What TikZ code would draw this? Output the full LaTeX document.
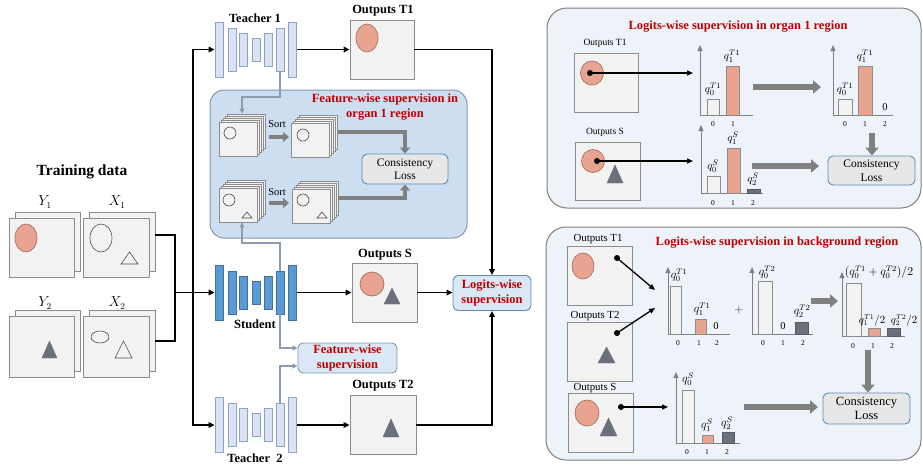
\documentclass[tikz,border=0pt]{standalone}
\usepackage{fontspec}
\setmainfont{Liberation Serif}
\usetikzlibrary{arrows.meta,calc}
\definecolor{salmon}{HTML}{E8A391}
\definecolor{salmonD}{HTML}{A8705F}
\definecolor{dgray}{HTML}{6B707D}
\definecolor{imgfill}{HTML}{F2F2F2}
\definecolor{imgline}{HTML}{8C8C8C}
\definecolor{tfill}{HTML}{DAE3F3}
\definecolor{tline}{HTML}{8FA3C4}
\definecolor{sfill}{HTML}{5B9BD5}
\definecolor{sline}{HTML}{41719C}
\definecolor{fregfill}{HTML}{CCDEF0}
\definecolor{fregline}{HTML}{8497B0}
\definecolor{panfill}{HTML}{EEF3FA}
\definecolor{panline}{HTML}{7F7F7F}
\definecolor{cfill}{HTML}{E7E7E7}
\definecolor{cline}{HTML}{5B8DB8}
\definecolor{lwfill}{HTML}{DAE7F5}
\definecolor{redt}{HTML}{C00000}
\definecolor{garr}{HTML}{808080}
\definecolor{farrc}{HTML}{8C9CAE}
\newcommand{\fsz}[2]{\fontsize{#1}{#2}\selectfont}
\newcommand{\pstack}[3]{%
  \foreach \k in {4,3,2,1} {\node[img, line width=0.6pt, minimum width=38pt, minimum height=34pt] (#1b\k) at ({#2+2*\k},{#3-2*\k}) {};}
  \node[img, minimum width=38pt, minimum height=34pt] (#1f) at (#2,#3) {};
}
\tikzset{
  img/.style={draw=imgline, fill=imgfill, line width=0.8pt, inner sep=0pt},
  tl/.style={draw=tline, fill=tfill, line width=0.8pt, minimum width=8pt, inner sep=0pt},
  sl/.style={draw=sline, fill=sfill, line width=0.8pt, minimum width=8pt, inner sep=0pt},
  arr/.style={line width=1.6pt, -{Triangle[length=6pt,width=5.5pt]}},
  barr/.style={line width=1.3pt, -{Triangle[length=6pt,width=5pt]}},
  dline/.style={line width=1.2pt},
  farr/.style={draw=farrc, line width=1.4pt, -{Triangle[length=5pt,width=5pt]}},
  gblock/.style={draw=garr, line width=4pt, -{Triangle[length=6pt,width=10pt]}},
  gbig/.style={draw=garr, line width=6pt, -{Triangle[length=8pt,width=13pt]}},
  cons/.style={draw=cline, fill=cfill, rounded corners=5pt, line width=0.9pt, align=center, inner sep=0pt},
  lwbox/.style={draw=cline, fill=lwfill, rounded corners=5pt, line width=0.9pt, align=center, inner sep=0pt, text=redt, font=\bfseries\fsz{12.5}{15}},
  panel/.style={draw=panline, fill=panfill, line width=1pt, rounded corners=20pt, inner sep=0pt},
  freg/.style={draw=fregline, fill=fregfill, line width=1pt, rounded corners=14pt, inner sep=0pt},
  lbl/.style={font=\bfseries\fsz{12.5}{14}, inner sep=0pt},
  redtitle/.style={text=redt, font=\bfseries\fsz{12.5}{15}, align=center, inner sep=0pt},
  olbl/.style={font=\fsz{9.5}{11}, inner sep=0pt},
  olbl2/.style={font=\fsz{10.8}{12}, inner sep=0pt},
  dlbl/.style={font=\fsz{13.5}{14}, inner sep=0pt},
  sal/.style={fill=salmon, draw=salmonD, line width=0.7pt},
  tri/.style={fill=dgray, draw=dgray},
  otri/.style={draw=black!70, line width=0.6pt},
  bar0/.style={draw=imgline, fill=imgfill, line width=0.8pt},
  bar1/.style={draw=imgline, fill=salmon, line width=0.8pt},
  bar2/.style={draw=dgray!80!black, fill=dgray, line width=0.6pt},
  axis/.style={draw=garr, line width=1pt},
  yax/.style={draw=garr, line width=1pt, -{Triangle[length=6pt,width=5pt]}},
  tick/.style={font=\fsz{7.5}{8}, inner sep=0pt},
  ql/.style={font=\fsz{11}{12}, inner sep=0pt},
  ql2/.style={font=\fsz{11.5}{12}, inner sep=0pt},
  ql3/.style={font=\fsz{10.5}{11}, inner sep=0pt},
  zero/.style={font=\fsz{10.5}{11}, inner sep=0pt},
}
\begin{document}
\begin{tikzpicture}[x=1pt,y=-1pt]
\useasboundingbox (0,0) rectangle (923,464);
% ---------------- backgrounds
\node[panel, minimum width=374pt, minimum height=200pt] (rp1) at (734,108) {};
\node[panel, minimum width=375pt, minimum height=233pt] (rp2) at (733.5,343.5) {};
\node[freg, minimum width=257pt, minimum height=148pt] (fr) at (338.5,164) {};

% ---------------- training data
\node[font=\bfseries\fsz{15.5}{17}, inner sep=0pt] (td) at (82,172) {Training data};
\node[dlbl] (ly1) at (45,202) {$Y_1$};
\node[dlbl] (lx1) at (117,202) {$X_1$};
\node[dlbl] (ly2) at (45,303) {$Y_2$};
\node[dlbl] (lx2) at (117,303) {$X_2$};
\node[img, minimum width=65pt, minimum height=59pt] (y1b) at (47.5,241.5) {};
\node[img, minimum width=65pt, minimum height=59pt] (y1f) at (41.5,247.5) {};
\node[img, minimum width=66pt, minimum height=59pt] (x1b) at (122,241.5) {};
\node[img, minimum width=66pt, minimum height=59pt] (x1f) at (116,247.5) {};
\node[img, minimum width=65pt, minimum height=61pt] (y2b) at (47.5,340.5) {};
\node[img, minimum width=65pt, minimum height=61pt] (y2f) at (41.5,346.5) {};
\node[img, minimum width=66pt, minimum height=61pt] (x2b) at (122,340.5) {};
\node[img, minimum width=66pt, minimum height=61pt] (x2f) at (116,346.5) {};
\draw[sal] (26,238) ellipse [x radius=11pt, y radius=14pt];
\draw[otri] (101,238) ellipse [x radius=11pt, y radius=14pt];
\draw[otri] (121,264) -- (138,264) -- (129.5,252) -- cycle;
\draw[tri] (42,358) -- (57,358) -- (49.5,341) -- cycle;
\draw[otri] (100,337) ellipse [x radius=9pt, y radius=6pt];
\draw[otri] (115,358) -- (132,358) -- (123.5,341) -- cycle;

\coordinate (j1) at (175,235);
\coordinate (j2) at (175,341);
\coordinate (jm) at (175,292.5);
\draw[dline] (x1b.east |- j1) -- (j1) -- (j2) -- (x2b.east |- j2);

% ---------------- networks
\foreach \i/\x/\h in {1/219/55,2/232/43,3/243.5/33,4/256/23,5/268/33,6/280/43,7/292.5/55} {
  \node[tl, minimum height=\h pt] (t1l\i) at (\x,49.5) {};
  \node[sl, minimum height=\h pt] (sl\i) at (\x,292.5) {};
  \node[tl, minimum height=\h pt] (t2l\i) at (\x,425) {};
}
\node[lbl] (lt1) at (255,18) {Teacher 1};
\node[lbl] (lst) at (255,324) {Student};
\node[lbl] (lt2) at (255,458) {Teacher\ \ 2};

\coordinate (bt) at (193,49.5);
\coordinate (bb) at (193,425);
\draw[arr] (bb) -- (bt) -- (t1l1.west);
\draw[arr] (bt) -- (bb) -- (t2l1.west);
\draw[arr] (jm) -- (sl1.west);

% outputs
\node[img, minimum width=64pt, minimum height=59pt] (ot1) at (382,49.5) {};
\node[lbl] (lot1) at (383,11) {Outputs T1};
\draw[sal] (367,38) ellipse [x radius=11pt, y radius=14pt];
\node[img, minimum width=65pt, minimum height=59pt] (os) at (384.5,292.5) {};
\node[lbl] (los) at (385,255) {Outputs S};
\draw[sal] (372,284) circle [radius=12pt];
\draw[tri] (384,304) -- (400,304) -- (392,288) -- cycle;
\node[img, minimum width=66pt, minimum height=59pt] (ot2) at (383,425) {};
\node[lbl] (lot2) at (383,386) {Outputs T2};
\draw[tri] (383,437) -- (399,437) -- (391,419) -- cycle;

\draw[arr] (t1l7.east) -- (ot1.west);
\draw[arr] (sl7.east) -- (os.west);
\draw[arr] (t2l7.east) -- (ot2.west);

\node[lwbox, minimum width=78pt, minimum height=35pt] (lw) at (492,293) {Logits-wise\\supervision};
\draw[arr] (ot1.east) -| (lw.north);
\draw[arr] (os.east) -- (os.east -| lw.west);
\draw[arr] (ot2.east) -| (lw.south);

% ---------------- feature-wise region
\node[redtitle] (frt) at (385,107.5) {Feature-wise supervision in\\organ 1 region};
\pstack{sa}{238.5}{139}
\pstack{sb}{310.5}{140}
\pstack{sc}{238}{205}
\pstack{sd}{311}{206}
\draw[otri] (230,133) circle [radius=6pt];
\draw[otri] (303,135) circle [radius=6pt];
\draw[otri] (229,200) circle [radius=6pt];
\draw[otri] (242,218) -- (252,218) -- (247,212) -- cycle;
\draw[otri] (303,200) circle [radius=6pt];
\draw[otri] (317,218) -- (327,218) -- (322,212) -- cycle;
\node[font=\fsz{10.5}{11}, inner sep=0pt] (so1) at (277,124) {Sort};
\node[font=\fsz{10.5}{11}, inner sep=0pt] (so2) at (277,192) {Sort};
\coordinate (sa1) at (269,137); \coordinate (sa2) at (289,137);
\coordinate (sb1) at (269,203); \coordinate (sb2) at (289,203);
\draw[gblock] (sa1) -- (sa2);
\draw[gblock] (sb1) -- (sb2);
\node[cons, minimum width=86pt, minimum height=30pt, font=\fsz{11.5}{13.5}] (cl1) at (405,169) {Consistency\\Loss};
\draw[gblock] (sbb4.east) -| (cl1.north);
\draw[gblock] (sdb4.east) -| (cl1.south);

\coordinate (fa) at (242,97);
\coordinate (fb) at (242,243);
\draw[farr] (t1l6.south) |- (fa) -- (fa |- sab4.north);
\draw[farr] (sl6.north) |- (fb) -- (fb |- scf.south);

\node[lwbox, draw=fregline, minimum width=99pt, minimum height=30pt] (fw) at (347.5,358) {Feature-wise\\supervision};
\draw[farr] (sl6.south) |- ([yshift=10pt]fw.west);
\draw[farr] (t2l6.north) |- ([yshift=-8pt]fw.west);

% ---------------- right panel 1
\node[redtitle] (rt1) at (738,27) {Logits-wise supervision in organ 1 region};
\node[olbl] (p1lt1) at (605,43) {Outputs T1};
\node[img, minimum width=64pt, minimum height=59pt] (p1t1) at (606,82.5) {};
\draw[sal] (592,73) ellipse [x radius=11.5pt, y radius=12pt];
\node[olbl] (p1ls) at (605,132) {Outputs S};
\node[img, minimum width=65pt, minimum height=58pt] (p1s) at (607.5,171) {};
\draw[sal] (593,161) circle [radius=11.5pt];
\draw[tri] (607,183) -- (623,183) -- (615,165) -- cycle;
\coordinate (d1) at (590,73); \coordinate (d1e) at (693,73);
\coordinate (d2) at (597,161); \coordinate (d2e) at (693,161);
\fill (d1) circle [radius=3pt]; \fill (d2) circle [radius=3pt];
\draw[barr] (d1) -- (d1e);
\draw[barr] (d2) -- (d2e);
% chart 1
\draw[yax] (700,115) -- (700,45);
\draw[axis] (700,115) -- (753,115);
\draw[bar0] (707,115) rectangle (719,99);
\draw[bar1] (726,115) rectangle (739,66);
\node[tick] (c1t0) at (713,124) {0};
\node[tick] (c1t1) at (733,124) {1};
\node[ql] (c1q0) at (713,89) {$q_0^{T1}$};
\node[ql] (c1q1) at (732,56) {$q_1^{T1}$};
% chart 2
\draw[yax] (833,115) -- (833,45);
\draw[axis] (833,115) -- (893,115);
\draw[bar0] (838,115) rectangle (852,99);
\draw[bar1] (858,115) rectangle (872,66);
\node[zero] (c2z) at (885,107) {0};
\node[tick] (c2t0) at (845,124) {0};
\node[tick] (c2t1) at (865,124) {1};
\node[tick] (c2t2) at (885,124) {2};
\node[ql] (c2q0) at (845,89) {$q_0^{T1}$};
\node[ql] (c2q1) at (865,56) {$q_1^{T1}$};
% chart 3
\draw[yax] (701,193) -- (701,125);
\draw[axis] (701,193) -- (763,193);
\draw[bar0] (707,193) rectangle (720,176);
\draw[bar1] (727,193) rectangle (740,148);
\draw[bar2] (747,193) rectangle (760,189);
\node[tick] (c3t0) at (713,203) {0};
\node[tick] (c3t1) at (733,203) {1};
\node[tick] (c3t2) at (753,203) {2};
\node[ql] (c3q0) at (713,166) {$q_0^{S}$};
\node[ql] (c3q1) at (733,138) {$q_1^{S}$};
\node[ql] (c3q2) at (753,179) {$q_2^{S}$};
\node[cons, minimum width=87pt, minimum height=29pt, font=\fsz{11.5}{13.5}] (cl2) at (871.5,170.5) {Consistency\\Loss};
\coordinate (g1s) at (753,87); \coordinate (g1e) at (821,87);
\coordinate (g2s) at (752,166); \coordinate (g2e) at (819,166);
\coordinate (g3s) at (872,133);
\draw[gbig] (g1s) -- (g1e);
\draw[gbig] (g2s) -- (g2e);
\draw[gbig] (g3s) -- (g3s |- cl2.north);

% ---------------- right panel 2
\node[redtitle] (rt2) at (777,243) {Logits-wise supervision in background region};
\node[olbl2] (p2lt1) at (598,239) {Outputs T1};
\node[img, minimum width=65pt, minimum height=59pt] (p2t1) at (599.5,275.5) {};
\draw[sal] (583,266) ellipse [x radius=11pt, y radius=13pt];
\node[olbl2] (p2lt2) at (595,316) {Outputs T2};
\node[img, minimum width=65pt, minimum height=59pt] (p2t2) at (599.5,351.5) {};
\draw[tri] (598,363) -- (615,363) -- (606.5,347) -- cycle;
\node[olbl2] (p2ls) at (595,388) {Outputs S};
\node[img, minimum width=65pt, minimum height=59pt] (p2s) at (600.5,422.5) {};
\draw[sal] (587,413) ellipse [x radius=12pt, y radius=13pt];
\draw[tri] (600,436) -- (617,436) -- (608.5,418) -- cycle;
\coordinate (e1) at (617,258); \coordinate (e1e) at (655,290);
\coordinate (e2) at (617,333); \coordinate (e2e) at (655,308);
\coordinate (e3) at (621,407); \coordinate (e3e) at (668,407);
\fill (e1) circle [radius=3pt]; \fill (e2) circle [radius=3pt]; \fill (e3) circle [radius=3pt];
\draw[barr] (e1) -- (e1e);
\draw[barr] (e2) -- (e2e);
\draw[barr] (e3) -- (e3e);
% chart A
\draw[yax] (668,334) -- (668,267);
\draw[axis] (668,334) -- (730,334);
\draw[bar0] (670,334) rectangle (681,286);
\draw[bar1] (695,334) rectangle (706,319);
\node[zero] (cAz) at (716,326) {0};
\node[tick] (cAt0) at (678,343) {0};
\node[tick] (cAt1) at (699,343) {1};
\node[tick] (cAt2) at (717,343) {2};
\node[ql2] (cAq0) at (679,275) {$q_0^{T1}$};
\node[ql2] (cAq1) at (702,309) {$q_1^{T1}$};
\node[text=garr, font=\fsz{16}{16}, inner sep=0pt] (plus) at (739,311) {+};
% chart B
\draw[yax] (752,334) -- (752,267);
\draw[axis] (752,334) -- (813,334);
\draw[bar0] (758,334) rectangle (772,281);
\draw[bar2] (795,334) rectangle (808,322);
\node[zero] (cBz) at (783,326) {0};
\node[tick] (cBt0) at (763,343) {0};
\node[tick] (cBt1) at (783,343) {1};
\node[tick] (cBt2) at (803,343) {2};
\node[ql2] (cBq0) at (767,272) {$q_0^{T2}$};
\node[ql2] (cBq2) at (802,311) {$q_2^{T2}$};
% chart C
\draw[yax] (842,336) -- (842,272);
\draw[axis] (842,336) -- (905,336);
\draw[bar0] (846,336) rectangle (861,283);
\draw[bar1] (868,336) rectangle (880,328);
\draw[bar2] (887,336) rectangle (900,328);
\node[tick] (cCt0) at (853,346) {0};
\node[tick] (cCt1) at (873,346) {1};
\node[tick] (cCt2) at (892,346) {2};
\node[ql2] (cCq0) at (879,272) {$(q_0^{T1}+q_0^{T2})/2$};
\node[ql3] (cCq1) at (872,320) {$q_1^{T1}/2$};
\node[ql3] (cCq2) at (904,320) {$q_2^{T2}/2$};
% chart D
\draw[yax] (676,443) -- (676,372);
\draw[axis] (676,443) -- (740,443);
\draw[bar0] (682,443) rectangle (694,390);
\draw[bar1] (702,443) rectangle (713,435);
\draw[bar2] (722,443) rectangle (734,432);
\node[tick] (cDt0) at (687,452) {0};
\node[tick] (cDt1) at (707,452) {1};
\node[tick] (cDt2) at (727,452) {2};
\node[ql2] (cDq0) at (688,379) {$q_0^{S}$};
\node[ql2] (cDq1) at (707,425) {$q_1^{S}$};
\node[ql2] (cDq2) at (727,423) {$q_2^{S}$};
\node[cons, minimum width=87pt, minimum height=31pt, font=\fsz{12.5}{14.5}] (cl3) at (866.5,408.5) {Consistency\\Loss};
\coordinate (h1s) at (811,301); \coordinate (h1e) at (838,301);
\coordinate (h2s) at (744,407); \coordinate (h2e) at (818,407);
\coordinate (h3s) at (868,350);
\draw[gbig] (h1s) -- (h1e);
\draw[gbig] (h2s) -- (h2e);
\draw[gbig] (h3s) -- (h3s |- cl3.north);
\end{tikzpicture}
\end{document}
